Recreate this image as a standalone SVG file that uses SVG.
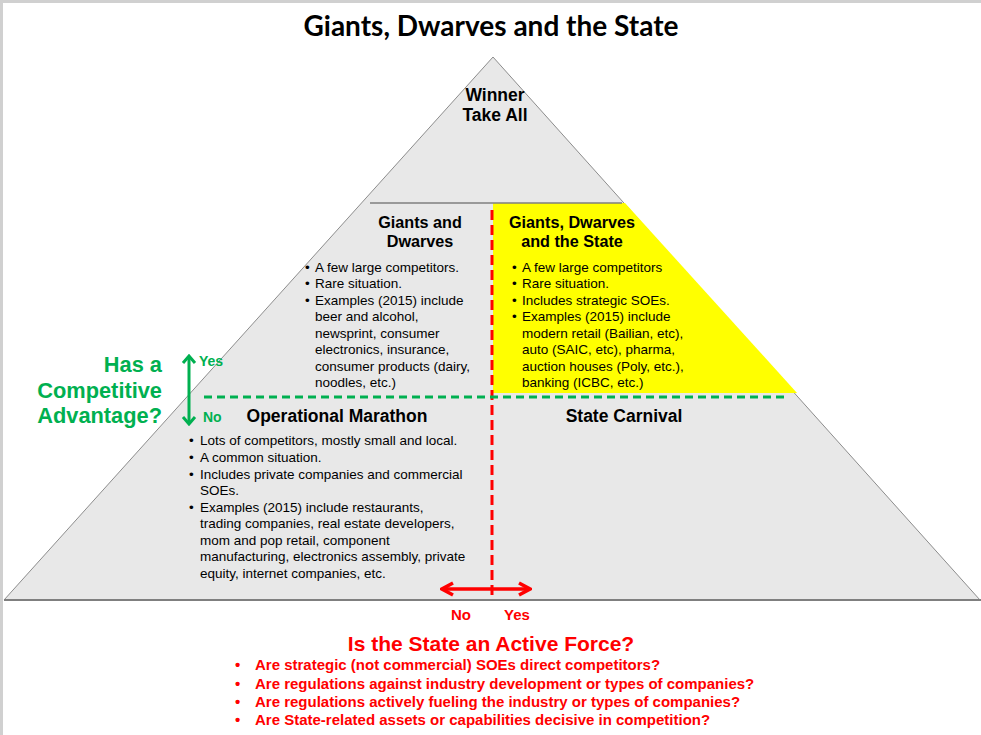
<svg xmlns="http://www.w3.org/2000/svg" width="981" height="735" viewBox="0 0 981 735">
<style>
text{font-family:"Liberation Sans",Arial,sans-serif;}
.h{font-weight:bold;font-size:17.5px;fill:#000;text-anchor:middle;}
.h2{font-weight:bold;font-size:16.2px;fill:#000;text-anchor:middle;}
.b{font-size:13.5px;fill:#000;}
.g{fill:#00b050;font-weight:bold;}
.r{fill:#ff0000;font-weight:bold;}
.rb{fill:#ff0000;font-weight:bold;font-size:15px;}
</style>
<defs>
<marker id="hg" viewBox="-9 -8 11 16" refX="0" refY="0" markerWidth="11" markerHeight="16" markerUnits="userSpaceOnUse" orient="auto-start-reverse">
<path d="M-7,-6 L0,0 L-7,6" fill="none" stroke="#00b050" stroke-width="3"/>
</marker>
<marker id="hr" viewBox="-13 -8 15 16" refX="0" refY="0" markerWidth="15" markerHeight="16" markerUnits="userSpaceOnUse" orient="auto-start-reverse">
<path d="M-11,-6 L0,0 L-11,6" fill="none" stroke="#ff0000" stroke-width="3.5"/>
</marker>
</defs>
<rect width="981" height="735" fill="#fff"/>
<path d="M1.5,735 V1.5 H981" fill="none" stroke="#d0d0d0" stroke-width="3"/>
<g id="pyramid">
<polygon points="493,57 980,600 4,600" fill="#e8e8e8" stroke="#8c8c8c" stroke-width="1"/>
<polygon points="493,203 625,203 797,393 493,393" fill="#ffff00"/>
<line x1="370" y1="203" x2="622" y2="203" stroke="#7f7f7f" stroke-width="1.5"/>
<line x1="4" y1="600" x2="981" y2="600" stroke="#7f7f7f" stroke-width="2"/>
</g>
<g id="title"><text x="491" y="36" text-anchor="middle" style="font-family:Lato,'Liberation Sans',sans-serif;font-weight:bold;font-size:28px">Giants, Dwarves and the State</text></g>
<g id="winner-take-all">
<text class="h" x="495" y="101">Winner</text>
<text class="h" x="495" y="121">Take All</text>
</g>
<g id="giants-and-dwarves">
<text class="h2" x="420" y="228">Giants and</text>
<text class="h2" x="420" y="247">Dwarves</text>
<g class="b">
<text x="305" y="272">•</text><text x="315" y="272">A few large competitors.</text>
<text x="305" y="288">•</text><text x="315" y="288">Rare situation.</text>
<text x="305" y="305">•</text><text x="315" y="305">Examples (2015) include</text>
<text x="315" y="321">beer and alcohol,</text>
<text x="315" y="338">newsprint, consumer</text>
<text x="315" y="354">electronics, insurance,</text>
<text x="315" y="371">consumer products (dairy,</text>
<text x="315" y="387">noodles, etc.)</text>
</g>
</g>
<g id="giants-dwarves-state">
<text class="h2" x="572" y="228">Giants, Dwarves</text>
<text class="h2" x="572" y="247">and the State</text>
<g class="b">
<text x="512" y="272">•</text><text x="522" y="272">A few large competitors</text>
<text x="512" y="288">•</text><text x="522" y="288">Rare situation.</text>
<text x="512" y="305">•</text><text x="522" y="305">Includes strategic SOEs.</text>
<text x="512" y="321">•</text><text x="522" y="321">Examples (2015) include</text>
<text x="522" y="338">modern retail (Bailian, etc),</text>
<text x="522" y="354">auto (SAIC, etc), pharma,</text>
<text x="522" y="371">auction houses (Poly, etc.),</text>
<text x="522" y="387">banking (ICBC, etc.)</text>
</g>
</g>
<g id="operational-marathon">
<text class="h" x="337" y="422">Operational Marathon</text>
<g class="b">
<text x="189" y="445">•</text><text x="200" y="445">Lots of competitors, mostly small and local.</text>
<text x="189" y="462">•</text><text x="200" y="462">A common situation.</text>
<text x="189" y="479">•</text><text x="200" y="479">Includes private companies and commercial</text>
<text x="200" y="495">SOEs.</text>
<text x="189" y="512">•</text><text x="200" y="512">Examples (2015) include restaurants,</text>
<text x="200" y="528">trading companies, real estate developers,</text>
<text x="200" y="545">mom and pop retail, component</text>
<text x="200" y="561">manufacturing, electronics assembly, private</text>
<text x="200" y="578">equity, internet companies, etc.</text>
</g>
</g>
<g id="state-carnival"><text class="h" x="624" y="422">State Carnival</text></g>
<g id="competitive-advantage">
<g class="g" style="font-size:21.8px" text-anchor="end">
<text x="162" y="372">Has a</text>
<text x="162" y="398">Competitive</text>
<text x="162" y="423">Advantage?</text>
</g>
<text class="g" x="199" y="366" style="font-size:14px">Yes</text>
<text class="g" x="203" y="422" style="font-size:14px">No</text>
</g>
<g id="state-force">
<text class="r" x="461" y="620" text-anchor="middle" style="font-size:15px">No</text>
<text class="r" x="517" y="620" text-anchor="middle" style="font-size:15px">Yes</text>
<text class="r" x="491" y="651" text-anchor="middle" style="font-size:21px">Is the State an Active Force?</text>
<g class="rb">
<text x="235" y="670">•</text><text x="255" y="670">Are strategic (not commercial) SOEs direct competitors?</text>
<text x="235" y="689">•</text><text x="255" y="689">Are regulations against industry development or types of companies?</text>
<text x="235" y="707">•</text><text x="255" y="707">Are regulations actively fueling the industry or types of companies?</text>
<text x="235" y="725">•</text><text x="255" y="725">Are State-related assets or capabilities decisive in competition?</text>
</g>
</g>
<g id="connectors">
<line x1="492" y1="210" x2="492" y2="598" stroke="#ff0000" stroke-width="3" stroke-dasharray="10,5"/>
<line x1="204" y1="397" x2="786" y2="397" stroke="#00b050" stroke-width="3" stroke-dasharray="8,5"/>
<line x1="189" y1="356" x2="189" y2="424" stroke="#00b050" stroke-width="3" marker-start="url(#hg)" marker-end="url(#hg)"/>
<line x1="442" y1="589" x2="530" y2="589" stroke="#ff0000" stroke-width="3.5" marker-start="url(#hr)" marker-end="url(#hr)"/>
</g>
</svg>
